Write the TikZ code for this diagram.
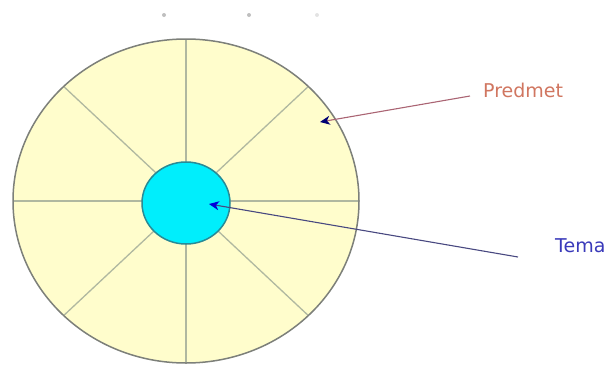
\documentclass[tikz,border=0pt]{standalone}
\usepackage{fontspec}
\setmainfont{DejaVu Sans}
\usetikzlibrary{arrows.meta,positioning}
\definecolor{pale}{RGB}{255,253,204}
\definecolor{rim}{RGB}{125,128,122}
\definecolor{spoke}{RGB}{176,184,160}
\definecolor{core}{RGB}{0,238,252}
\definecolor{corerim}{RGB}{40,138,150}
\definecolor{predcol}{RGB}{208,118,96}
\definecolor{predline}{RGB}{170,100,115}
\definecolor{temacol}{RGB}{58,58,186}
\definecolor{temaline}{RGB}{72,72,128}

\begin{document}
\begin{tikzpicture}[x=1pt, y=-1pt,
        lbl/.style={anchor=base west, inner sep=0pt, font=\fontsize{19}{19}\selectfont},
        sp/.style={spoke, line width=1.3pt},
        pr/.style={-{Stealth[length=10pt, width=9pt, inset=3pt, color=blue!45!black]}, predline, line width=1.1pt},
        tm/.style={-{Stealth[length=10pt, width=9pt, inset=3pt, color=blue!85!black]}, temaline, line width=1.1pt},
        dot/.style={circle, fill=gray!50, inner sep=0pt, minimum size=4pt}]
        \useasboundingbox (0,0) rectangle (608,365);
        % Dots on top
        \node[dot] (d1) at (164,15) {};
        \node[dot] (d2) at (249,15) {};
        \node[dot, fill=gray!22] (d3) at (317,15) {};
        % Outer disc
        \coordinate (c) at (186,201);
        \fill[pale] (c) ellipse [x radius=173, y radius=162];
        \foreach \a in {0,45,...,315}
            \draw[sp] (c) -- ++({173*cos(\a)},{162*sin(\a)});
        \draw[rim, line width=1.5pt] (c) ellipse [x radius=173, y radius=162];
        % Inner disc
        \filldraw[fill=core, draw=corerim, line width=1.5pt] (186,203) ellipse [x radius=44, y radius=41];
        % Labels
        \node[lbl, text=predcol] (predmet) at (483,97) {Predmet};
        \node[lbl, text=temacol] (tema) at (555,252) {Tema};
        \coordinate (pfrom) at (470,96);
        \coordinate (pto) at (320,122);
        \coordinate (tfrom) at (518,257);
        \coordinate (tto) at (209,204);
        % Arrows
        \draw[pr] (pfrom) -- (pto);
        \draw[tm] (tfrom) -- (tto);
\end{tikzpicture}
\end{document}
